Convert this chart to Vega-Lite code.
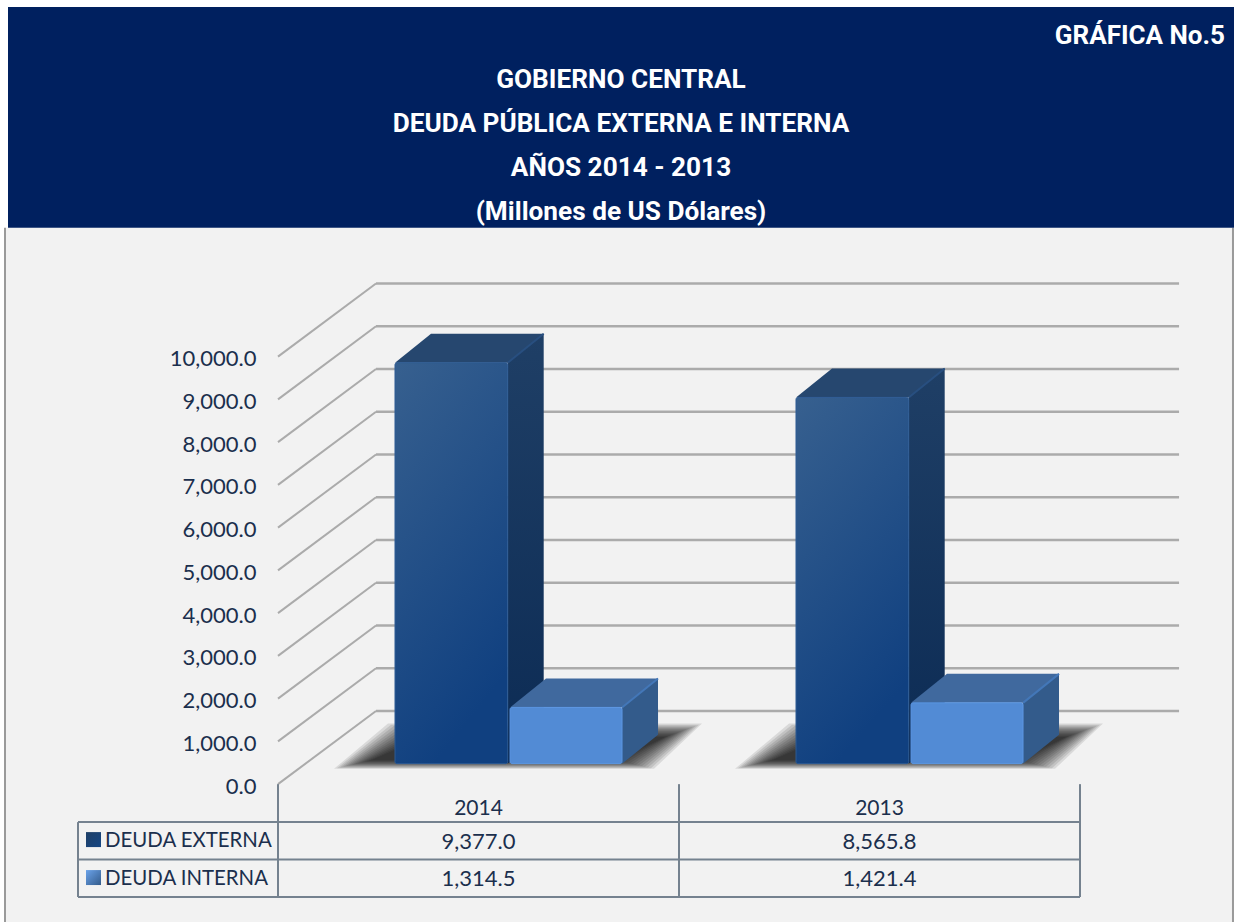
{"$schema":"https://vega.github.io/schema/vega-lite/v6.json","autosize":{"type":"fit","contains":"padding"},"width":1234,"height":923,"padding":0,"background":"#ffffff","view":{"stroke":null},
"datasets":{"main":[{"year":2014,"serie":"DEUDA EXTERNA","value":9377.0},{"year":2013,"serie":"DEUDA EXTERNA","value":8565.8},{"year":2014,"serie":"DEUDA INTERNA","value":1314.5},{"year":2013,"serie":"DEUDA INTERNA","value":1421.4}],
"ticks":[{"v":0},{"v":1000},{"v":2000},{"v":3000},{"v":4000},{"v":5000},{"v":6000},{"v":7000},{"v":8000},{"v":9000},{"v":10000}]},
"encoding":{"x":{"field":"xa","type":"quantitative","stack":null,"scale":{"domain":[-0.69327,2.38404],"nice":false,"zero":false},"axis":null},
"y":{"field":"ya","type":"quantitative","stack":null,"scale":{"domain":[-3224.3,18341.1],"nice":false,"zero":false},"axis":{"title":null,"values":[0,1000,2000,3000,4000,5000,6000,7000,8000,9000,10000],"format":",.1f","offset":-256,"domain":false,"ticks":false,"grid":false,"labelPadding":0,"labelOffset":2,"labelFont":"Lato","labelFontSize":22,"labelColor":"#1b2f4d","labelBound":false,"zindex":1}}},
"layer":[
{"data":{"values":[{"k":"panel"}]},"transform":[{"calculate":"-0.6808","as":"xa"},{"calculate":"2.3815","as":"xb"},{"calculate":"(785-228)/0.0428","as":"ya"},{"calculate":"(785-923)/0.0428","as":"yb"}],"mark":{"type":"rect","fill":"#f2f2f2"},"encoding":{"x2":{"field":"xb"},"y2":{"field":"yb"}}},
{"data":{"values":[{"k":-0.6808},{"k":2.3815}]},"transform":[{"calculate":"datum.k","as":"xa"},{"calculate":"(785-228)/0.0428","as":"ya"},{"calculate":"(785-923)/0.0428","as":"yb"}],"mark":{"type":"rule","stroke":"#9a9a9a","strokeWidth":2},"encoding":{"y2":{"field":"yb"}}},
{"data":{"values":[{"k":"band"}]},"transform":[{"calculate":"(8-278)/401","as":"xa"},{"calculate":"2.38404","as":"xb"},{"calculate":"(785-7)/0.0428","as":"ya"},{"calculate":"(785-228)/0.0428","as":"yb"}],"mark":{"type":"rect","fill":"#00205f"},"encoding":{"x2":{"field":"xb"},"y2":{"field":"yb"}}},
{"data":{"values":[{"t":"GOBIERNO CENTRAL","n":0},{"t":"DEUDA PÚBLICA EXTERNA E INTERNA","n":1},{"t":"AÑOS 2014 - 2013","n":2},{"t":"(Millones de US Dólares)","n":3}]},"transform":[{"calculate":"(621-278)/401","as":"xa"},{"calculate":"(785-79-44*datum.n)/0.0428","as":"ya"}],"mark":{"type":"text","font":"Roboto","fontWeight":"bold","fontSize":26.2,"dy":1,"color":"#ffffff","align":"center","baseline":"middle"},"encoding":{"text":{"field":"t"}}},
{"data":{"values":[{"t":"GRÁFICA No.5"}]},"transform":[{"calculate":"(1225-278)/401","as":"xa"},{"calculate":"(785-36)/0.0428","as":"ya"}],"mark":{"type":"text","font":"Roboto","fontWeight":"bold","fontSize":26,"color":"#ffffff","align":"right","baseline":"middle"},"encoding":{"text":{"field":"t"}}},
{"data":{"name":"ticks"},"transform":[{"calculate":"0","as":"xa"},{"calculate":"0.2444","as":"xb"},{"calculate":"datum.v","as":"ya"},{"calculate":"datum.v+1710","as":"yb"}],"mark":{"type":"rule","stroke":"#ababab","strokeWidth":2},"encoding":{"x2":{"field":"xb"},"y2":{"field":"yb"}}},
{"data":{"name":"ticks"},"transform":[{"calculate":"0.2444","as":"xa"},{"calculate":"2.247","as":"xb"},{"calculate":"datum.v+1710","as":"ya"}],"mark":{"type":"rule","stroke":"#ababab","strokeWidth":2.5},"encoding":{"x2":{"field":"xb"}}},
{"data":{"name":"main"},"transform":[{"filter":"datum.serie=='DEUDA EXTERNA'"},{"calculate":"datum.year==2014?0:1","as":"cat"},{"calculate":"[0,1]","as":"d"},{"flatten":["d"]},{"calculate":"[-6,-5,-4,-3,-2,-1,0,1,2,3,4,5,6]","as":"g"},{"flatten":["g"]},{"calculate":"datum.d==0?765.5+datum.g*0.7:731-datum.g*1.1","as":"py"},{"calculate":"(785-datum.py)/0.0428","as":"ya"},{"calculate":"datum.cat+((datum.d==0?352:406)-datum.g*3-278)/401","as":"xa"},{"calculate":"datum.cat+((datum.d==0?636:684)+datum.g*3-278)/401","as":"xb"}],"mark":{"type":"area","orient":"horizontal","color":"#000000","opacity":0.1},"encoding":{"x2":{"field":"xb"},"detail":[{"field":"year","type":"nominal"},{"field":"g","type":"nominal"}]}},
{"data":{"name":"main"},"transform":[{"filter":"datum.serie=='DEUDA EXTERNA'"},{"calculate":"datum.year==2014?0:1","as":"cat"},{"calculate":"[0,1]","as":"d"},{"flatten":["d"]},{"calculate":"datum.cat+0.2918+0.281+datum.d*0.0898","as":"xa"},{"calculate":"datum.value+480+datum.d*678","as":"ya"},{"calculate":"480+datum.d*678","as":"yb"}],"mark":{"type":"area","color":{"gradient":"linear","x1":0,"y1":0,"x2":0,"y2":1,"stops":[{"offset":0,"color":"#1f3f66"},{"offset":1,"color":"#0c2b54"}]}},"encoding":{"y2":{"field":"yb"},"detail":{"field":"year","type":"nominal"}}},
{"data":{"name":"main"},"transform":[{"filter":"datum.serie=='DEUDA EXTERNA'"},{"calculate":"datum.year==2014?0:1","as":"cat"},{"calculate":"[0,1]","as":"d"},{"flatten":["d"]},{"calculate":"datum.cat+0.2918+datum.d*0.0898","as":"xa"},{"calculate":"datum.cat+0.2918+0.281+datum.d*0.0898","as":"xb"},{"calculate":"datum.value+480+datum.d*678","as":"ya"}],"mark":{"type":"area","orient":"horizontal","color":"#26476f"},"encoding":{"x2":{"field":"xb"},"detail":{"field":"year","type":"nominal"}}},
{"data":{"name":"main"},"transform":[{"filter":"datum.serie=='DEUDA EXTERNA'"},{"calculate":"datum.year==2014?0:1","as":"cat"},{"calculate":"datum.cat+0.2918","as":"xa"},{"calculate":"datum.cat+0.2918+0.281","as":"xb"},{"calculate":"datum.value+480","as":"ya"},{"calculate":"480","as":"yb"}],"mark":{"type":"rect","cornerRadius":2,"stroke":"#2c5a94","strokeWidth":1,"fill":{"gradient":"linear","x1":0,"y1":0,"x2":0.35,"y2":1,"stops":[{"offset":0,"color":"#37608f"},{"offset":1,"color":"#104080"}]}},"encoding":{"x2":{"field":"xb"},"y2":{"field":"yb"}}},
{"data":{"name":"main"},"transform":[{"filter":"datum.serie=='DEUDA INTERNA'"},{"calculate":"datum.year==2014?0:1","as":"cat"},{"calculate":"[0,1]","as":"d"},{"flatten":["d"]},{"calculate":"datum.cat+0.5786+0.2793+datum.d*0.0898","as":"xa"},{"calculate":"datum.value+480+datum.d*678","as":"ya"},{"calculate":"480+datum.d*678","as":"yb"}],"mark":{"type":"area","color":"#335b8b"},"encoding":{"y2":{"field":"yb"},"detail":{"field":"year","type":"nominal"}}},
{"data":{"name":"main"},"transform":[{"filter":"datum.serie=='DEUDA INTERNA'"},{"calculate":"datum.year==2014?0:1","as":"cat"},{"calculate":"[0,1]","as":"d"},{"flatten":["d"]},{"calculate":"datum.cat+0.5786+datum.d*0.0898","as":"xa"},{"calculate":"datum.cat+0.5786+0.2793+datum.d*0.0898","as":"xb"},{"calculate":"datum.value+480+datum.d*678","as":"ya"}],"mark":{"type":"area","orient":"horizontal","color":"#40699e"},"encoding":{"x2":{"field":"xb"},"detail":{"field":"year","type":"nominal"}}},
{"data":{"name":"main"},"transform":[{"filter":"datum.serie=='DEUDA INTERNA'"},{"calculate":"datum.year==2014?0:1","as":"cat"},{"calculate":"datum.cat+0.5786","as":"xa"},{"calculate":"datum.cat+0.5786+0.2793","as":"xb"},{"calculate":"datum.value+480","as":"ya"},{"calculate":"480","as":"yb"}],"mark":{"type":"rect","cornerRadius":2,"fill":"#528bd5","stroke":"#5b96e2","strokeWidth":1},"encoding":{"x2":{"field":"xb"},"y2":{"field":"yb"}}},
{"data":{"name":"main"},"transform":[{"calculate":"datum.year==2014?0:1","as":"cat"},{"calculate":"datum.serie=='DEUDA EXTERNA'?0:1","as":"s"},{"calculate":"datum.s==0?datum.cat+0.2918+0.281:datum.cat+0.5786+0.2793","as":"xa"},{"calculate":"datum.xa+0.0898","as":"xb"},{"calculate":"datum.value+480","as":"ya"},{"calculate":"datum.ya+678","as":"yb"}],"mark":{"type":"rule","strokeWidth":2},"encoding":{"x2":{"field":"xb"},"y2":{"field":"yb"},"color":{"field":"serie","type":"nominal","legend":null,"scale":{"domain":["DEUDA EXTERNA","DEUDA INTERNA"],"range":["#284f80","#4377b8"]}}}},
{"data":{"values":[{"cat":0},{"cat":1},{"cat":2}]},"transform":[{"calculate":"datum.cat","as":"xa"},{"calculate":"0","as":"ya"},{"calculate":"(785-898)/0.0428","as":"yb"}],"mark":{"type":"rule","stroke":"#75828f","strokeWidth":2},"encoding":{"y2":{"field":"yb"}}},
{"data":{"values":[{"row":0},{"row":1},{"row":2}]},"transform":[{"calculate":"(78-278)/401","as":"xa"},{"calculate":"2","as":"xb"},{"calculate":"(785-823-37.5*datum.row)/0.0428","as":"ya"}],"mark":{"type":"rule","stroke":"#75828f","strokeWidth":2},"encoding":{"x2":{"field":"xb"}}},
{"data":{"values":[{"k":"left"}]},"transform":[{"calculate":"(78-278)/401","as":"xa"},{"calculate":"(785-823)/0.0428","as":"ya"},{"calculate":"(785-898)/0.0428","as":"yb"}],"mark":{"type":"rule","stroke":"#75828f","strokeWidth":2},"encoding":{"y2":{"field":"yb"}}},
{"data":{"name":"main"},"transform":[{"filter":"datum.serie=='DEUDA EXTERNA'"},{"calculate":"(datum.year==2014?0:1)+0.5","as":"xa"},{"calculate":"(785-808)/0.0428","as":"ya"}],"mark":{"type":"text","font":"Lato","fontSize":21,"dy":2,"color":"#1b2f4d","align":"center","baseline":"middle"},"encoding":{"text":{"field":"year","type":"nominal"}}},
{"data":{"name":"main"},"transform":[{"calculate":"(datum.year==2014?0:1)+0.5","as":"xa"},{"calculate":"(785-(datum.serie=='DEUDA EXTERNA'?841:878))/0.0428","as":"ya"}],"mark":{"type":"text","font":"Lato","fontSize":22,"dy":2,"color":"#1b2f4d","align":"center","baseline":"middle"},"encoding":{"text":{"field":"value","type":"quantitative","format":",.1f"}}},
{"data":{"name":"main"},"transform":[{"filter":"datum.year==2014"},{"calculate":"(105-278)/401","as":"xa"},{"calculate":"(785-(datum.serie=='DEUDA EXTERNA'?840:878))/0.0428","as":"ya"}],"mark":{"type":"text","font":"Lato","fontSize":20.4,"dy":2,"color":"#1b2f4d","align":"left","baseline":"middle"},"encoding":{"text":{"field":"serie","type":"nominal"}}},
{"data":{"name":"main"},"transform":[{"filter":"datum.year==2014&&datum.serie=='DEUDA EXTERNA'"},{"calculate":"(86-278)/401","as":"xa"},{"calculate":"(101-278)/401","as":"xb"},{"calculate":"(785-833)/0.0428","as":"ya"},{"calculate":"(785-848)/0.0428","as":"yb"}],"mark":{"type":"rect","fill":{"gradient":"linear","x1":0,"y1":0,"x2":1,"y2":1,"stops":[{"offset":0,"color":"#1f3f66"},{"offset":1,"color":"#154684"}]}},"encoding":{"x2":{"field":"xb"},"y2":{"field":"yb"}}},
{"data":{"name":"main"},"transform":[{"filter":"datum.year==2014&&datum.serie=='DEUDA INTERNA'"},{"calculate":"(86-278)/401","as":"xa"},{"calculate":"(101-278)/401","as":"xb"},{"calculate":"(785-871)/0.0428","as":"ya"},{"calculate":"(785-886)/0.0428","as":"yb"}],"mark":{"type":"rect","fill":{"gradient":"linear","x1":0,"y1":0,"x2":1,"y2":1,"stops":[{"offset":0,"color":"#6ba3ea"},{"offset":1,"color":"#335b8b"}]}},"encoding":{"x2":{"field":"xb"},"y2":{"field":"yb"}}}
]}
